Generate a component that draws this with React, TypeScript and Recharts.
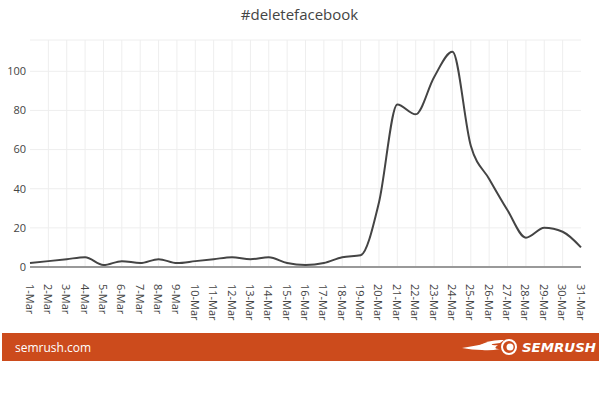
import { LineChart, Line, XAxis, YAxis, CartesianGrid, ReferenceLine } from 'recharts';

const days = [
  '1-Mar', '2-Mar', '3-Mar', '4-Mar', '5-Mar', '6-Mar', '7-Mar', '8-Mar', '9-Mar', '10-Mar',
  '11-Mar', '12-Mar', '13-Mar', '14-Mar', '15-Mar', '16-Mar', '17-Mar', '18-Mar', '19-Mar', '20-Mar',
  '21-Mar', '22-Mar', '23-Mar', '24-Mar', '25-Mar', '26-Mar', '27-Mar', '28-Mar', '29-Mar', '30-Mar', '31-Mar',
];

const mentions = [
  2, 3, 4, 5, 1, 3, 2, 4, 2, 3,
  4, 5, 4, 5, 2, 1, 2, 5, 6, 33,
  83, 78, 97, 110, 62, 45, 29, 15, 20, 18, 10,
];

const yTicks = [0, 20, 40, 60, 80, 100];

const data = days.map((day, i) => ({ day, value: mentions[i] }));

const FONT = '"Open Sans", "DejaVu Sans", sans-serif';

const DayTick = (props: any) => {
  const { x, y, payload } = props;
  return (
    <text
      transform={`translate(${x}, ${y + 9}) rotate(90)`}
      textAnchor="start"
      dominantBaseline="central"
      fontSize={11}
      fontFamily={FONT}
      fill="#444"
    >
      {payload.value}
    </text>
  );
};

export default function App() {
  return (
    <div style={{ position: 'absolute', left: 0, top: 0, width: 599, height: 397, background: '#fff', fontFamily: FONT }}>
      <div style={{ position: 'absolute', top: 4, width: 599, textAlign: 'center', fontSize: 15, color: '#444' }}>
        #deletefacebook
      </div>
      <LineChart width={599} height={330} data={data} margin={{ top: 40, right: 18, left: 0, bottom: 0 }}>
        <CartesianGrid vertical={false} stroke="#eee" />
        {days.slice(1, -1).map((d) => (
          <ReferenceLine key={d} x={d} stroke="#eee" strokeWidth={1} />
        ))}
        <XAxis
          dataKey="day"
          scale="point"
          interval={0}
          height={63}
          tickLine={false}
          axisLine={{ stroke: '#999', strokeWidth: 2 }}
          tick={<DayTick />}
        />
        <YAxis
          width={30}
          domain={[0, 116]}
          ticks={yTicks}
          axisLine={false}
          tickLine={false}
          tickSize={0}
          tickMargin={4}
          tick={{ fontSize: 11, fill: '#444', fontFamily: FONT }}
        />
        <Line
          type="monotone"
          dataKey="value"
          stroke="#444"
          strokeWidth={2}
          dot={false}
          isAnimationActive={false}
        />
      </LineChart>
      <div style={{ position: 'absolute', left: 2, top: 333, width: 597, height: 28, background: '#cc4b1c' }}>
        <div style={{ position: 'absolute', left: 13, top: 6, fontSize: 12, color: '#fff' }}>semrush.com</div>
        <svg style={{ position: 'absolute', left: 458, top: 4 }} width={139} height={20}>
          <g fill="#fff">
            <path d="M2 11 Q20 8 34 5 Q28 9 38 8 Q32 12 40 12 Q30 14 22 13 Q12 13 2 11 Z" />
            <path d="M18 9 Q30 2 44 3 L40 6 Z" />
            <circle cx={49} cy={10} r={7} fill="none" stroke="#fff" strokeWidth={2} />
            <circle cx={50} cy={10} r={3.5} />
          </g>
          <text
            x={62}
            y={15}
            fontSize={13}
            fontWeight="bold"
            fontStyle="italic"
            fill="#fff"
            fontFamily="Verdana, DejaVu Sans, sans-serif"
            textLength={74}
            lengthAdjust="spacingAndGlyphs"
          >
            SEMRUSH
          </text>
        </svg>
      </div>
    </div>
  );
}
